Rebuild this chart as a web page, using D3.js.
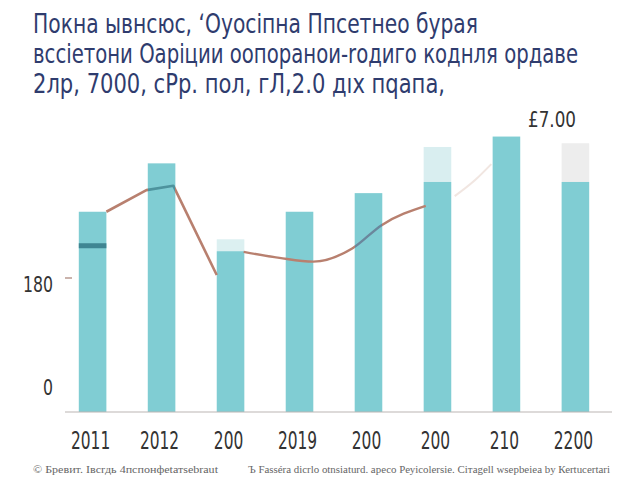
<!DOCTYPE html>
<html><head><meta charset="utf-8">
<script src="https://cdn.jsdelivr.net/npm/d3@7"></script>
<style>body{margin:0;background:#fff}svg{display:block}</style>
</head><body>
<script>
const categories = ["2011","2012","200","2019","200","200","210","2200"];
const barValues  = [269, 334, 216, 269, 294, 309, 370, 309];
const capValues  = [0, 0, 16, 0, 0, 47, 0, 52];
const capColors  = ["#d6eef0","#d6eef0","#dcf0f1","#d6eef0","#d6eef0","#d9eef0","#d6eef0","#ededed"];
const stripeValues = [224, null, null, null, null, null, null, null];
// line segments: x in category-index units, y in value units
const lineA_x = [0.2, 0.78, 1.17, 1.8];
const lineA_y = [269, 298, 304, 184];
const lineB_x = [2.19, 2.71, 3.2, 3.77, 4.19, 4.83];
const lineB_y = [215, 207, 202, 220, 251, 277];
const lineC_x = [5.25, 5.55, 5.78];
const lineC_y = [290, 312, 333];
const yTicks = [0, 180];
const titleLines = [
  "Покна ывнсюс, ʻОуосіпна Ппсетнео бурая",
  "всcіетони Оаріции оопорaнои-rодиго коднля ордaвe",
  "2лр, 7000, сРр. пол, гЛ,2.0 дıх пqапа,"
];
const titleWidths = [445, 545, 412];
const topLabel = "£7.00";
const footer = ["© Бревит. Івсrдь 4пспонфеtатѕеbrаut", "Ъ Fasséra dicrlo otnsiaturd. аресо Реуісоlеrѕіе. Сітаgell wseрbеіеа bу Кеrtuсеrtаrі"];

const W = 640, H = 480;
const FONT = "'DejaVu Sans Condensed','Liberation Sans',sans-serif";
const svg = d3.select("body").append("svg").attr("width", W).attr("height", H);
const x = d3.scaleBand().domain(d3.range(categories.length)).range([65, 603]).paddingInner(0.6).paddingOuter(0.2);
const bw = x.bandwidth();
const xl = d3.scaleLinear().domain([0, categories.length - 1]).range([x(0) + bw/2, x(categories.length - 1) + bw/2]);
const y = d3.scaleLinear().domain([0, 180]).range([412, 278]);

// title
svg.append("g").selectAll("text").data(titleLines).join("text")
  .attr("transform", (d,i) => `translate(33,${33 + i*30}) scale(1,1.12)`)
  .attr("textLength", (d,i) => titleWidths[i]).attr("lengthAdjust", "spacingAndGlyphs")
  .attr("font-family", FONT)
  .attr("font-size", 24).attr("font-weight", 500).attr("fill", "#2f3c6e").text(d => d);

// caps
svg.append("g").selectAll("rect").data(barValues).join("rect")
  .attr("x", (d,i) => x(i)).attr("width", bw)
  .attr("y", (d,i) => y(d + capValues[i])).attr("height", (d,i) => y(d) - y(d + capValues[i]))
  .attr("fill", (d,i) => capColors[i]);
// bars
svg.append("g").selectAll("rect").data(barValues).join("rect")
  .attr("x", (d,i) => x(i)).attr("width", bw)
  .attr("y", d => y(d)).attr("height", d => y(0) - y(d)).attr("fill", "#80cdd3");
// stripes
svg.append("g").selectAll("rect").data(stripeValues.map((v,i)=>({v,i})).filter(d=>d.v!=null)).join("rect")
  .attr("x", d => x(d.i)).attr("width", bw)
  .attr("y", d => y(d.v) - 2).attr("height", 5).attr("fill", "#3f8592");

// line gradient (colour changes where it crosses bars 2 and 5)
const defs = svg.append("defs");
const grad = defs.append("linearGradient").attr("id","lg").attr("gradientUnits","userSpaceOnUse")
  .attr("x1", 0).attr("x2", W).attr("y1", 0).attr("y2", 0);
const brown = "#b8806f", teal = "#4d939d", blueg = "#6a879c";
const stops = [
  [0, brown], [x(1), brown], [x(1), teal], [x(1)+bw, teal], [x(1)+bw, brown],
  [x(4), brown], [x(4), blueg], [x(4)+bw, blueg], [x(4)+bw, brown], [W, brown]
];
stops.forEach(([p,c]) => grad.append("stop").attr("offset", p / W).attr("stop-color", c));

const lineLin = d3.line().x(d => xl(d[0])).y(d => y(d[1]));
const lineMono = d3.line().x(d => xl(d[0])).y(d => y(d[1])).curve(d3.curveMonotoneX);
svg.append("path").datum(d3.zip(lineA_x, lineA_y)).attr("d", lineLin).attr("fill","none")
  .attr("stroke","url(#lg)").attr("stroke-width", 2.6).attr("stroke-linejoin","round");
svg.append("path").datum(d3.zip(lineB_x, lineB_y)).attr("d", lineMono).attr("fill","none")
  .attr("stroke","url(#lg)").attr("stroke-width", 2.4);
svg.append("path").datum(d3.zip(lineC_x, lineC_y)).attr("d", lineMono).attr("fill","none")
  .attr("stroke","#f1e6e1").attr("stroke-width", 2);

// baseline
svg.append("line").attr("x1", 65).attr("x2", 612).attr("y1", y(0)).attr("y2", y(0))
  .attr("stroke", "#bcb6b3").attr("stroke-width", 1.2);

// y axis labels
const yg = svg.append("g");
yg.selectAll("text").data(yTicks).join("text")
  .attr("x", 53).attr("y", d => d === 0 ? y(d) - 17 : y(d) + 14)
  .attr("text-anchor", "end").attr("font-family", FONT)
  .attr("font-size", 21).attr("fill", "#333")
  .attr("textLength", d => String(d).length * 10).attr("lengthAdjust","spacingAndGlyphs")
  .text(d => String(d));
yg.selectAll("line").data(yTicks.filter(d => d > 0)).join("line")
  .attr("x1", 65).attr("x2", 72).attr("y1", d => y(d)).attr("y2", d => y(d))
  .attr("stroke", "#b99a90").attr("stroke-width", 1.5);

// x labels
svg.append("g").selectAll("text").data(categories).join("text")
  .attr("x", (d,i) => x(i) + bw/2 - 2).attr("y", 449)
  .attr("text-anchor", "middle").attr("font-family", FONT)
  .attr("font-size", 24).attr("fill", "#333")
  .attr("textLength", d => d.length * 9.8).attr("lengthAdjust","spacingAndGlyphs")
  .text(d => d);

// top label
svg.append("text").attr("x", 552).attr("y", 127).attr("text-anchor","middle")
  .attr("font-family", FONT).attr("font-size", 21).attr("fill", "#333")
  .attr("textLength", 48).attr("lengthAdjust","spacingAndGlyphs").text(topLabel);

// footer
svg.append("text").attr("x", 33).attr("y", 473).attr("font-family","'Liberation Serif',serif")
  .attr("font-size", 10).attr("fill", "#666").attr("textLength", 185).attr("lengthAdjust","spacingAndGlyphs").text(footer[0]);
svg.append("text").attr("x", 248).attr("y", 473).attr("font-family","'Liberation Serif',serif")
  .attr("font-size", 10).attr("fill", "#666").attr("textLength", 362).attr("lengthAdjust","spacingAndGlyphs").text(footer[1]);
</script>
</body></html>
